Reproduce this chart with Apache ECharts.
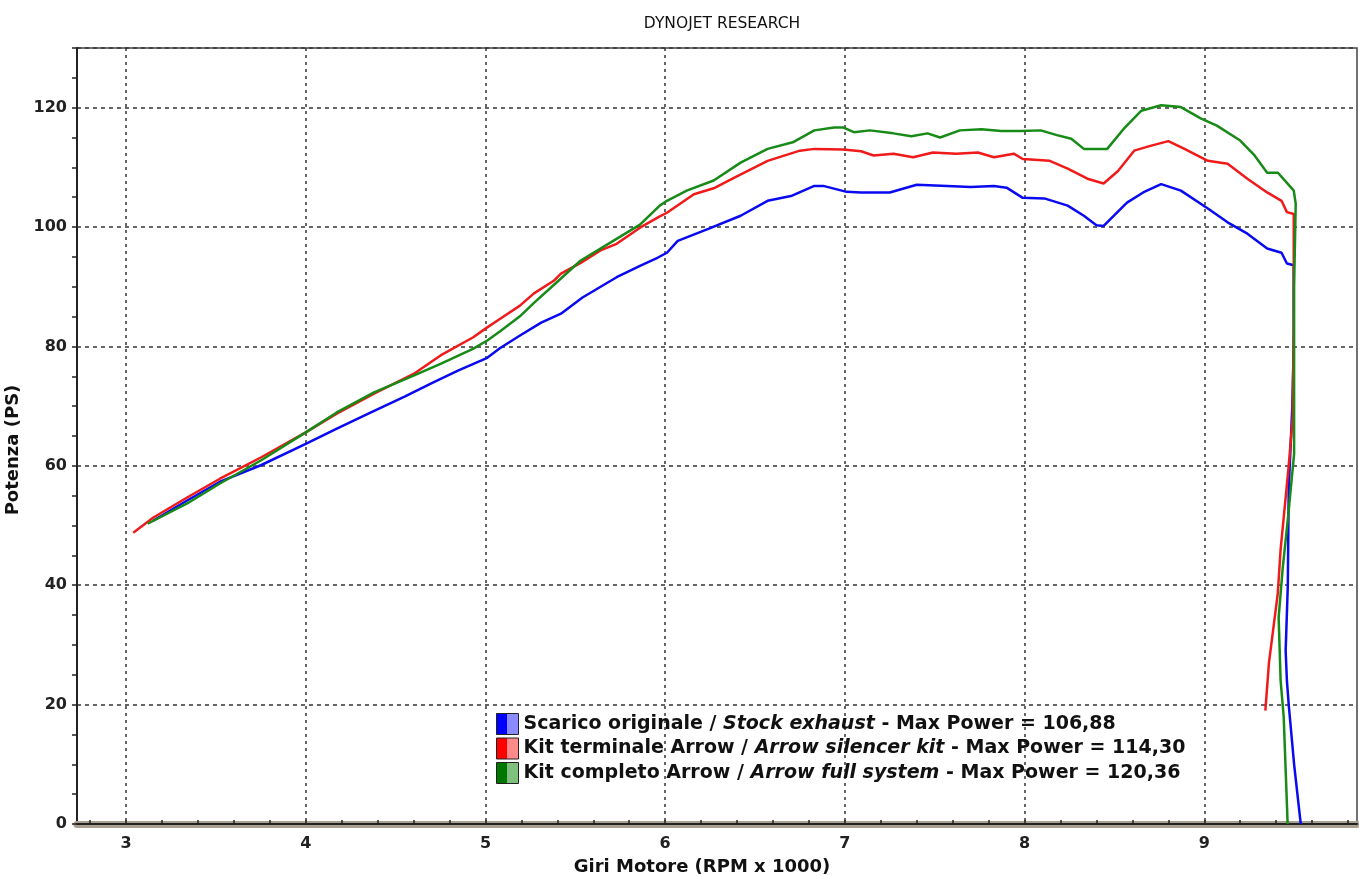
<!DOCTYPE html>
<html>
<head>
<meta charset="utf-8">
<title>Dynojet</title>
<script src="https://cdn.jsdelivr.net/npm/echarts@6/dist/echarts.min.js"></script>
<style>
  html, body { margin: 0; background: #fff; }
  #main { width: 1359px; height: 876px; }
</style>
</head>
<body>
<div id="main"></div>
<script>
// curve values (RPM x 1000, PS)
const stockRpm = [3.15, 3.34, 3.52, 3.75, 4.0, 4.17, 4.36, 4.55, 4.71, 4.85, 5.01, 5.08, 5.19, 5.31, 5.42, 5.54, 5.73, 5.86, 5.96, 6.01, 6.07, 6.24, 6.42, 6.57, 6.70, 6.83, 6.88, 7.01, 7.09, 7.25, 7.40, 7.57, 7.70, 7.83, 7.90, 7.99, 8.11, 8.24, 8.33, 8.40, 8.44, 8.57, 8.66, 8.76, 8.87, 9.02, 9.13, 9.24, 9.35, 9.43, 9.46, 9.498, 9.498, 9.49, 9.47, 9.465, 9.453, 9.46, 9.47, 9.50, 9.537]
const stockPs = [50.8, 54.2, 57.3, 60.1, 63.7, 66.2, 68.9, 71.6, 74.0, 76.0, 78.1, 79.7, 81.8, 84.0, 85.5, 88.2, 91.6, 93.5, 94.9, 95.7, 97.7, 99.7, 101.9, 104.4, 105.2, 106.9, 106.9, 105.9, 105.8, 105.8, 107.1, 106.9, 106.7, 106.9, 106.6, 104.9, 104.8, 103.6, 101.9, 100.3, 100.2, 104.1, 105.8, 107.2, 106.1, 103.1, 100.8, 98.9, 96.4, 95.7, 93.9, 93.6, 80, 70, 56, 40, 29, 24, 20, 10, 0]

const silRpm = [3.04, 3.15, 3.34, 3.52, 3.75, 4.0, 4.17, 4.38, 4.60, 4.75, 4.93, 5.01, 5.08, 5.19, 5.27, 5.38, 5.42, 5.53, 5.64, 5.73, 5.86, 5.97, 6.01, 6.16, 6.27, 6.38, 6.57, 6.75, 6.83, 6.99, 7.09, 7.16, 7.27, 7.38, 7.49, 7.62, 7.74, 7.83, 7.94, 7.99, 8.14, 8.24, 8.35, 8.44, 8.52, 8.61, 8.70, 8.80, 8.89, 9.02, 9.13, 9.24, 9.35, 9.43, 9.46, 9.498, 9.498, 9.492, 9.47, 9.425, 9.409, 9.36, 9.34]
const silPs = [48.8, 51.3, 54.7, 57.8, 61.4, 65.6, 68.7, 72.1, 75.4, 78.5, 81.5, 83.2, 84.6, 86.8, 88.9, 91.0, 92.2, 94.0, 96.1, 97.2, 99.9, 101.8, 102.4, 105.5, 106.5, 108.2, 111.1, 112.8, 113.1, 113.0, 112.7, 112.0, 112.3, 111.7, 112.5, 112.3, 112.5, 111.7, 112.3, 111.4, 111.1, 109.8, 108.1, 107.3, 109.4, 112.8, 113.6, 114.4, 113.1, 111.1, 110.6, 108.1, 105.8, 104.4, 102.5, 102.2, 84, 68, 60, 46, 38.6, 27, 19]

const fullRpm = [3.12, 3.34, 3.52, 3.75, 4.0, 4.17, 4.38, 4.60, 4.75, 4.93, 5.01, 5.08, 5.19, 5.27, 5.38, 5.53, 5.64, 5.86, 5.97, 6.01, 6.12, 6.27, 6.42, 6.57, 6.71, 6.83, 6.94, 6.99, 7.05, 7.14, 7.27, 7.37, 7.46, 7.53, 7.64, 7.76, 7.87, 7.98, 8.09, 8.18, 8.26, 8.33, 8.46, 8.55, 8.65, 8.76, 8.87, 8.98, 9.07, 9.20, 9.28, 9.35, 9.41, 9.46, 9.498, 9.509, 9.50, 9.50, 9.465, 9.437, 9.414, 9.425, 9.442, 9.464]
const fullPs = [50.3, 53.7, 57.0, 60.9, 65.6, 68.9, 72.3, 75.1, 77.1, 79.6, 81.0, 82.5, 85.0, 87.3, 90.3, 94.4, 96.4, 100.4, 103.6, 104.4, 106.1, 107.8, 110.8, 113.1, 114.2, 116.2, 116.7, 116.7, 115.9, 116.2, 115.7, 115.2, 115.7, 115.0, 116.2, 116.4, 116.1, 116.1, 116.2, 115.4, 114.8, 113.1, 113.1, 116.4, 119.5, 120.4, 120.1, 118.2, 117.0, 114.5, 112.0, 109.1, 109.1, 107.4, 106.1, 103.9, 90, 62, 51, 43, 34.6, 24, 18, 0]

const seriesNames = ['Scarico originale', 'Kit terminale Arrow', 'Kit completo Arrow']
const seriesNamesEn = ['Stock exhaust', 'Arrow silencer kit', 'Arrow full system']
const maxPower = ['106,88', '114,30', '120,36']
const lineColors = ['#0a0af0', '#f01a1a', '#178a17']
const iconDark = ['#0000ff', '#ff0000', '#007800']
const iconLight = ['#8a8aff', '#ff8a8a', '#7fc07f']

const xLabels = [3, 4, 5, 6, 7, 8, 9]
const xMinor = []
for (let v = 28; v <= 98; v += 2) xMinor.push(v / 10)

const pairs = (xs, ys) => xs.map((x, i) => [x, ys[i]])
const curves = [pairs(stockRpm, stockPs), pairs(silRpm, silPs), pairs(fullRpm, fullPs)]

const font = 'DejaVu Sans, Verdana, sans-serif'
const xMin = 2.727
const xMax = 9.85

const chart = echarts.init(document.getElementById('main'))
const option = {
  animation: false,
  backgroundColor: '#fff',
  title: {
    text: 'DYNOJET RESEARCH',
    left: 717,
    top: 11,
    textAlign: 'center',
    textStyle: { fontFamily: font, fontSize: 15.5, fontWeight: 'normal', color: '#111' },
  },
  grid: {
    left: 77, right: 2, top: 48, bottom: 52,
    show: true, borderColor: '#444', borderWidth: 1.5,
    outerBoundsMode: 'none',
  },
  legend: {
    orient: 'vertical',
    left: 491,
    top: 708,
    itemWidth: 22,
    itemHeight: 21,
    itemGap: 2.5,
    icon: 'rect',
    data: seriesNames.map((n, i) => ({
      name: n,
      itemStyle: {
        color: {
          type: 'linear', x: 0, y: 0, x2: 1, y2: 0,
          colorStops: [
            { offset: 0, color: iconDark[i] }, { offset: 0.5, color: iconDark[i] },
            { offset: 0.5, color: iconLight[i] }, { offset: 1, color: iconLight[i] },
          ],
        },
        borderColor: '#222', borderWidth: 1,
      },
    })),
    formatter: (name) => {
      const i = seriesNames.indexOf(name)
      return '{b|' + name + ' / }{i|' + seriesNamesEn[i] + '}{b| - Max Power = ' + maxPower[i] + '}'
    },
    textStyle: {
      fontFamily: font, fontSize: 19, fontWeight: 'bold', color: '#111',
      rich: {
        b: { fontFamily: font, fontSize: 19, fontWeight: 'bold', color: '#111' },
        i: { fontFamily: font, fontSize: 19, fontWeight: 'bold', fontStyle: 'italic', color: '#111' },
      },
    },
  },
  xAxis: [
    {
      // thick base bar + minor ticks
      type: 'value', min: xMin, max: xMax, position: 'bottom', offset: 4,
      axisLine: { lineStyle: { color: '#a8a090', width: 7 } },
      axisTick: { show: true, customValues: xMinor, inside: true, length: 4, lineStyle: { color: '#222', width: 1.5 } },
      axisLabel: { show: false },
      splitLine: { show: false },
    },
    {
      type: 'value', min: xMin, max: xMax, position: 'bottom',
      name: 'Giri Motore (RPM x 1000)',
      nameLocation: 'middle',
      nameGap: 34,
      nameTextStyle: { fontFamily: font, fontSize: 18, fontWeight: 'bold', color: '#111', padding: [0, 30, 0, 0] },
      axisLine: { lineStyle: { color: '#222', width: 2 } },
      axisTick: { show: false, customValues: xLabels },
      axisLabel: { customValues: xLabels, fontFamily: font, fontSize: 16, fontWeight: 'bold', color: '#222', margin: 12 },
      splitLine: { show: true, lineStyle: { type: [3, 4], color: '#333', width: 1.5 } },
    },
  ],
  yAxis: [
    {
      type: 'value', min: 0, max: 130, interval: 20, position: 'left',
      name: 'Potenza (PS)',
      nameLocation: 'middle',
      nameGap: 48,
      nameTextStyle: { fontFamily: font, fontSize: 18, fontWeight: 'bold', color: '#111', padding: [0, 28, 0, 0] },
      axisLine: { show: true, lineStyle: { color: '#222', width: 2 } },
      axisTick: { show: false },
      axisLabel: { showMaxLabel: false, fontFamily: font, fontSize: 16, fontWeight: 'bold', color: '#222', margin: 10 },
      splitLine: { show: true, lineStyle: { type: [4, 4], color: '#333', width: 1.5 } },
    },
    {
      // minor ticks every 5 PS
      type: 'value', min: 0, max: 130, interval: 5, position: 'left',
      axisLine: { show: false },
      axisTick: { show: true, length: 5, lineStyle: { color: '#222', width: 1.5 } },
      axisLabel: { show: false },
      splitLine: { show: false },
    },
  ],
  series: seriesNames.map((n, i) => ({
    name: n,
    type: 'line',
    xAxisIndex: 1,
    yAxisIndex: 0,
    data: curves[i],
    showSymbol: false,
    symbol: 'none',
    lineStyle: { color: lineColors[i], width: 2.5 },
    itemStyle: { color: lineColors[i] },
  })),
}
option && chart.setOption(option)
</script>
</body>
</html>
